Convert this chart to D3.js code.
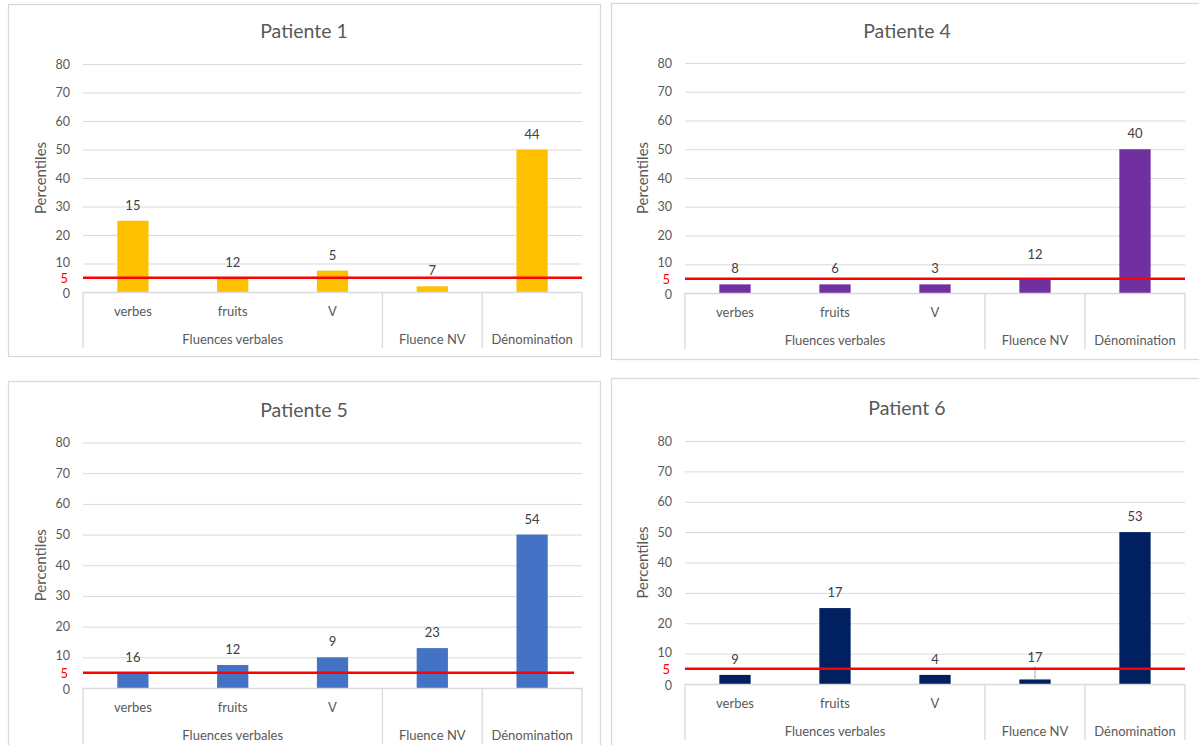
<!DOCTYPE html>
<html lang="fr">
<head>
<meta charset="utf-8">
<script src="https://cdn.jsdelivr.net/npm/d3@7"></script>
<style>
  html, body { margin: 0; padding: 0; background: #ffffff; }
  svg { display: block; font-family: Lato, "Open Sans", sans-serif; }
</style>
</head>
<body>
<svg id="chart" width="1199" height="745"></svg>
<script>
// Category axis: three verbal-fluency tasks under one heading, then two single tasks
const subLabels = ["verbes", "fruits", "V", "", ""];
const groupNames = ["Fluences verbales", "Fluence NV", "Dénomination"];
const groupSpans = [3, 1, 1];

const yTicks = [0, 10, 20, 30, 40, 50, 60, 70, 80];
const threshold = 5;

const titles = ["Patiente 1", "Patiente 4", "Patiente 5", "Patient 6"];

// Bar heights are percentiles; the numbers above the bars are the raw scores
const percentiles1 = [25, 5, 7.5, 2, 50];
const scores1 = [15, 12, 5, 7, 44];
const percentiles4 = [3, 3, 3, 5, 50];
const scores4 = [8, 6, 3, 12, 40];
const percentiles5 = [5, 7.5, 10, 13, 50];
const scores5 = [16, 12, 9, 23, 54];
const percentiles6 = [3, 25, 3, 1.5, 50];
const scores6 = [9, 17, 4, 17, 53];

const barColors = ["#FFC000", "#7030A0", "#4472C4", "#002060"];

// Frame and plot placement of each of the four charts
const layouts = [
  { box: [8, 4, 600, 356],    plot: [83, 582, 64, 292],     titleY: 30,  lineEnd: 582 },
  { box: [611, 3, 1203, 359], plot: [685, 1185, 63, 293],   titleY: 30,  lineEnd: 1185 },
  { box: [8, 381, 600, 752],  plot: [83, 582, 442.5, 688],  titleY: 409, lineEnd: 574 },
  { box: [611, 378, 1203, 752], plot: [685, 1185, 441, 684], titleY: 407, lineEnd: 1185 }
];
// Labels moved by hand in the workbook (extra lift in px, optional leader line)
const labelNudges = [
  [],
  [{ i: 3, lift: 9, leader: false }],
  [],
  [{ i: 3, lift: 6, leader: true }]
];

const series = [
  { perc: percentiles1, scores: scores1 },
  { perc: percentiles4, scores: scores4 },
  { perc: percentiles5, scores: scores5 },
  { perc: percentiles6, scores: scores6 }
];

const svg = d3.select("#chart");
const textColor = "#595959";
const gridColor = "#d9d9d9";

series.forEach((s, k) => {
  const L = layouts[k];
  const [bx0, by0, bx1, by1] = L.box;
  const [left, right, top, bottom] = L.plot;
  const g = svg.append("g");

  // chart frame
  g.append("rect")
    .attr("x", bx0 + 0.5).attr("y", by0 + 0.5)
    .attr("width", bx1 - bx0).attr("height", by1 - by0)
    .attr("fill", "#fff").attr("stroke", gridColor).attr("stroke-width", 1.3);

  const idx = d3.range(subLabels.length);
  const cell = d3.scaleBand().domain(idx).range([left, right]).padding(0);
  const bar = d3.scaleBand().domain(idx).range([left, right])
    .paddingInner(0.687).paddingOuter(0.3435);
  const y = d3.scaleLinear().domain([0, 80]).range([bottom, top]);

  // title, centred on the chart frame
  g.append("text")
    .attr("x", (bx0 + bx1) / 2).attr("y", L.titleY)
    .attr("text-anchor", "middle").attr("dominant-baseline", "central")
    .attr("font-size", 19.5).attr("fill", textColor)
    .text(titles[k]);

  // value axis with gridlines
  const yAxis = g.append("g")
    .attr("transform", `translate(${left},0)`)
    .call(d3.axisLeft(y).tickValues(yTicks.filter(v => v > 0).concat([0]))
      .tickSize(-(right - left)).tickPadding(13));
  yAxis.select(".domain").remove();
  yAxis.selectAll(".tick line")
    .attr("stroke", gridColor).attr("stroke-width", 1)
    .filter(d => d === 0).remove();
  yAxis.selectAll(".tick text")
    .attr("font-size", 12.5).attr("fill", textColor)
    .attr("font-family", "Lato, sans-serif")
    .attr("dy", d => d === 10 ? "0.2em" : d === 0 ? "0.44em" : "0.32em");

  // red threshold tick label
  const tAxis = g.append("g")
    .attr("transform", `translate(${left},0)`)
    .call(d3.axisLeft(y).tickValues([threshold]).tickSize(0).tickPadding(15));
  tAxis.select(".domain").remove();
  tAxis.selectAll(".tick text")
    .attr("font-size", 13).attr("fill", "#ff0000")
    .attr("dy", "0.34em")
    .attr("font-family", "Lato, sans-serif");

  // axis title
  g.append("text")
    .attr("transform", `translate(${left - 43},${(top + bottom) / 2}) rotate(-90)`)
    .attr("text-anchor", "middle").attr("dominant-baseline", "central")
    .attr("font-size", 15).attr("fill", textColor)
    .text("Percentiles");

  // bars
  g.selectAll("rect.bar").data(s.perc).join("rect")
    .attr("class", "bar")
    .attr("x", (d, i) => bar(i))
    .attr("width", bar.bandwidth())
    .attr("y", d => y(d))
    .attr("height", d => y(0) - y(d))
    .attr("fill", barColors[k]);

  // score labels above bars
  const nudge = i => labelNudges[k].find(n => n.i === i);
  g.selectAll("text.score").data(s.scores).join("text")
    .attr("class", "score")
    .attr("x", (d, i) => cell(i) + cell.bandwidth() / 2)
    .attr("y", (d, i) => y(s.perc[i]) - 11 - (nudge(i) ? nudge(i).lift : 0))
    .attr("text-anchor", "middle")
    .attr("font-size", 13).attr("fill", "#404040")
    .text(d => d);
  labelNudges[k].filter(n => n.leader).forEach(n => {
    const cx = cell(n.i) + cell.bandwidth() / 2;
    g.append("line")
      .attr("x1", cx).attr("x2", cx)
      .attr("y1", y(s.perc[n.i])).attr("y2", y(s.perc[n.i]) - 11 - n.lift + 4)
      .attr("stroke", "#a6a6a6").attr("stroke-width", 1);
  });

  // threshold line
  g.append("line")
    .attr("x1", left).attr("x2", L.lineEnd)
    .attr("y1", y(threshold)).attr("y2", y(threshold))
    .attr("stroke", "#ff0000").attr("stroke-width", 2.5);

  // multi-level category axis
  const axisDepth = 56;
  g.append("line")
    .attr("x1", left).attr("x2", right)
    .attr("y1", bottom + 0.5).attr("y2", bottom + 0.5)
    .attr("stroke", gridColor).attr("stroke-width", 1.3);

  let start = 0;
  const bounds = [left];
  groupSpans.forEach((span, j) => {
    const x0 = cell(start);
    const x1 = cell(start + span - 1) + cell.bandwidth();
    bounds.push(x1);
    g.append("text")
      .attr("x", (x0 + x1) / 2).attr("y", bottom + 47)
      .attr("text-anchor", "middle").attr("dominant-baseline", "central")
      .attr("font-size", 13).attr("fill", textColor)
      .text(groupNames[j]);
    start += span;
  });
  g.selectAll("line.sep").data(bounds).join("line")
    .attr("class", "sep")
    .attr("x1", d => d).attr("x2", d => d)
    .attr("y1", bottom).attr("y2", bottom + axisDepth)
    .attr("stroke", gridColor).attr("stroke-width", 1.3);

  g.selectAll("text.sub").data(subLabels).join("text")
    .attr("class", "sub")
    .attr("x", (d, i) => cell(i) + cell.bandwidth() / 2)
    .attr("y", bottom + 19)
    .attr("text-anchor", "middle").attr("dominant-baseline", "central")
    .attr("font-size", 13).attr("fill", textColor)
    .text(d => d);
});
</script>
</body>
</html>
